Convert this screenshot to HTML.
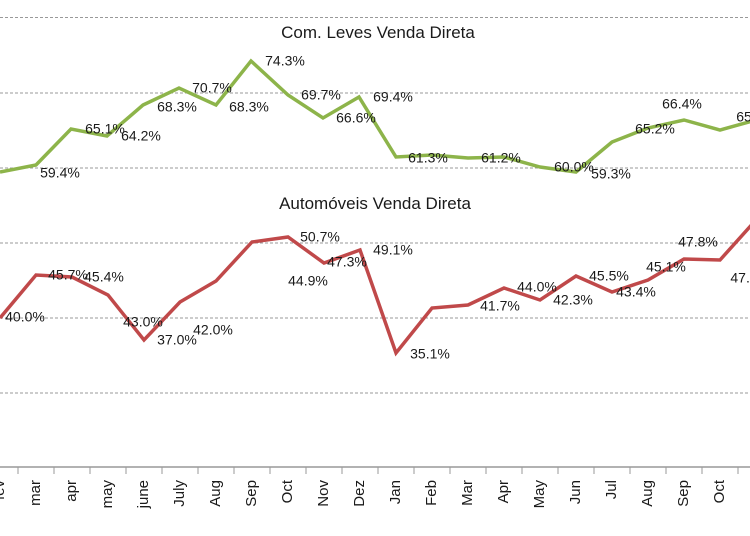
<!DOCTYPE html>
<html><head><meta charset="utf-8"><style>
html,body{margin:0;padding:0;background:#fff;width:750px;height:536px;overflow:hidden}
text{font-family:"Liberation Sans",sans-serif;fill:#1a1a1a}
</style></head><body>
<svg width="750" height="536" viewBox="0 0 750 536" xmlns="http://www.w3.org/2000/svg">
<g stroke="#999" stroke-width="1" stroke-dasharray="3,2">
<line x1="0" y1="17.5" x2="750" y2="17.5"/>
<line x1="0" y1="93" x2="750" y2="93"/>
<line x1="0" y1="168" x2="750" y2="168"/>
<line x1="0" y1="243" x2="750" y2="243"/>
<line x1="0" y1="318" x2="750" y2="318"/>
<line x1="0" y1="393" x2="750" y2="393"/>
</g>
<line x1="0" y1="467" x2="750" y2="467" stroke="#999" stroke-width="1.5"/>
<g stroke="#999" stroke-width="1">
<line x1="18" y1="467" x2="18" y2="474"/><line x1="54" y1="467" x2="54" y2="474"/><line x1="90" y1="467" x2="90" y2="474"/><line x1="126" y1="467" x2="126" y2="474"/><line x1="162" y1="467" x2="162" y2="474"/><line x1="198" y1="467" x2="198" y2="474"/><line x1="234" y1="467" x2="234" y2="474"/><line x1="270" y1="467" x2="270" y2="474"/><line x1="306" y1="467" x2="306" y2="474"/><line x1="342" y1="467" x2="342" y2="474"/><line x1="378" y1="467" x2="378" y2="474"/><line x1="414" y1="467" x2="414" y2="474"/><line x1="450" y1="467" x2="450" y2="474"/><line x1="486" y1="467" x2="486" y2="474"/><line x1="522" y1="467" x2="522" y2="474"/><line x1="558" y1="467" x2="558" y2="474"/><line x1="594" y1="467" x2="594" y2="474"/><line x1="630" y1="467" x2="630" y2="474"/><line x1="666" y1="467" x2="666" y2="474"/><line x1="702" y1="467" x2="702" y2="474"/><line x1="738" y1="467" x2="738" y2="474"/>
</g>
<text x="378" y="38" font-size="17" text-anchor="middle">Com. Leves Venda Direta</text>
<text x="375" y="209" font-size="17" text-anchor="middle">Automóveis Venda Direta</text>
<polyline fill="none" stroke="#8db44a" stroke-width="3.5" points="0,172 36,165 71,129 107,136 143,105 179,88 216,105 251,61 288,95 323,118 359,97 396,157 432,155 468,158 504,157 540,167 576,172 612,142 648,128 684,120 720,130 756,120"/>
<polyline fill="none" stroke="#c0494a" stroke-width="3.5" points="0,318 36,275 72,277 108,295 144,340 180,302 216,281 252,242 288,237 324,263 360,250 396,353 432,308 468,305 504,288 540,300 576,276 612,292 648,280 684,259 720,260 756,220"/>
<g font-size="14" text-anchor="middle" dominant-baseline="middle">
<text x="60" y="174">59.4%</text><text x="105" y="130">65.1%</text><text x="141" y="137">64.2%</text><text x="177" y="108">68.3%</text><text x="212" y="89">70.7%</text><text x="249" y="108">68.3%</text><text x="285" y="62">74.3%</text><text x="321" y="96">69.7%</text><text x="356" y="119">66.6%</text><text x="393" y="98">69.4%</text><text x="428" y="159">61.3%</text><text x="501" y="159">61.2%</text><text x="574" y="168">60.0%</text><text x="611" y="175">59.3%</text><text x="655" y="130">65.2%</text><text x="682" y="105">66.4%</text><text x="746" y="118">65.</text>
<text x="25" y="318">40.0%</text><text x="68" y="276">45.7%</text><text x="104" y="278">45.4%</text><text x="143" y="323">43.0%</text><text x="177" y="341">37.0%</text><text x="213" y="331">42.0%</text><text x="320" y="238">50.7%</text><text x="308" y="282">44.9%</text><text x="347" y="263">47.3%</text><text x="393" y="251">49.1%</text><text x="430" y="355">35.1%</text><text x="500" y="307">41.7%</text><text x="537" y="288">44.0%</text><text x="573" y="301">42.3%</text><text x="609" y="277">45.5%</text><text x="636" y="293">43.4%</text><text x="666" y="268">45.1%</text><text x="698" y="243">47.8%</text><text x="744" y="279">47.7</text>
</g>
<g font-size="15" text-anchor="end" dominant-baseline="middle">
<text transform="translate(0,480) rotate(-90)">fev</text>
<text transform="translate(36,480) rotate(-90)">mar</text>
<text transform="translate(72,480) rotate(-90)">apr</text>
<text transform="translate(108,480) rotate(-90)">may</text>
<text transform="translate(144,480) rotate(-90)">june</text>
<text transform="translate(180,480) rotate(-90)">July</text>
<text transform="translate(216,480) rotate(-90)">Aug</text>
<text transform="translate(252,480) rotate(-90)">Sep</text>
<text transform="translate(288,480) rotate(-90)">Oct</text>
<text transform="translate(324,480) rotate(-90)">Nov</text>
<text transform="translate(360,480) rotate(-90)">Dez</text>
<text transform="translate(396,480) rotate(-90)">Jan</text>
<text transform="translate(432,480) rotate(-90)">Feb</text>
<text transform="translate(468,480) rotate(-90)">Mar</text>
<text transform="translate(504,480) rotate(-90)">Apr</text>
<text transform="translate(540,480) rotate(-90)">May</text>
<text transform="translate(576,480) rotate(-90)">Jun</text>
<text transform="translate(612,480) rotate(-90)">Jul</text>
<text transform="translate(648,480) rotate(-90)">Aug</text>
<text transform="translate(684,480) rotate(-90)">Sep</text>
<text transform="translate(720,480) rotate(-90)">Oct</text>
<text transform="translate(756,480) rotate(-90)">Nov</text>
</g>
</svg>
</body></html>
